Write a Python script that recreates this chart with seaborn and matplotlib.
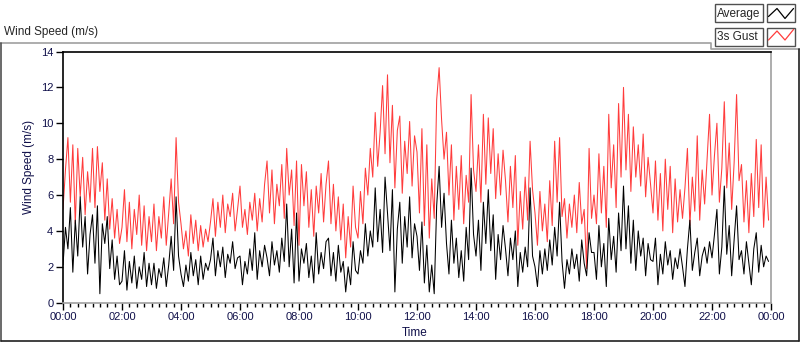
import numpy as np
import pandas as pd
import seaborn as sns
import matplotlib.pyplot as plt
from matplotlib.lines import Line2D
from matplotlib.patches import Rectangle
from matplotlib.ticker import MultipleLocator

# -------------------------------
# Data: 5-minute samples over one day (one row = one hour)
# -------------------------------
sample_min = 5

avg_ms = [
    2.1, 4.2, 3.0, 5.3, 1.7, 4.6, 2.6, 5.9, 3.1, 4.8, 1.6, 3.8,
    4.9, 2.2, 5.4, 0.5, 4.4, 3.3, 4.8, 1.9, 3.5, 1.3, 2.6, 1.0,
    1.2, 2.9, 0.7, 2.3, 1.1, 2.6, 0.8, 2.0, 1.3, 2.8, 0.9, 2.2,
    1.0, 2.2, 0.8, 1.9, 1.4, 2.5, 0.9, 2.1, 3.7, 1.8, 5.9, 2.6,
    1.6, 0.9, 2.1, 1.2, 2.8, 1.5, 2.4, 1.0, 2.6, 1.3, 2.2, 1.8,
    2.4, 3.6, 1.5, 2.9, 2.0, 3.1, 1.4, 2.7, 2.2, 3.4, 1.9, 2.5,
    2.6, 1.0, 2.3, 1.6, 3.0, 1.8, 3.9, 1.3, 2.9, 2.0, 3.2, 2.5,
    1.5, 3.4, 2.1, 2.9, 1.7, 3.6, 2.3, 5.5, 2.0, 4.1, 1.1, 5.0,
    1.2, 3.0, 2.2, 3.3, 1.4, 2.6, 1.1, 3.9, 1.6, 2.8, 1.9, 3.4,
    3.6, 1.5, 2.8, 1.2, 3.2, 1.7, 2.3, 0.6, 2.0, 1.0, 3.4, 1.8,
    1.6, 2.9, 2.2, 4.4, 2.6, 4.0, 3.1, 6.4, 3.4, 5.2, 2.8, 7.0,
    5.0, 2.9, 6.3, 0.6, 4.1, 5.6, 2.2, 4.8, 3.1, 5.9, 2.5, 4.4,
    3.7, 1.8, 4.5, 1.1, 3.2, 0.6, 2.1, 0.5, 5.4, 7.6, 4.2, 6.1,
    3.3, 1.6, 4.6, 2.2, 3.6, 1.4, 2.9, 1.2, 4.2, 2.4, 7.5, 3.8,
    2.6, 4.6, 1.8, 5.6, 3.3, 6.3, 2.9, 4.9, 1.3, 3.8, 2.4, 4.3,
    3.0, 1.5, 3.6, 2.4, 4.0, 0.9, 2.8, 1.7, 3.1, 2.0, 6.4, 2.6,
    2.0, 0.9, 2.9, 1.6, 3.0, 1.8, 3.5, 2.1, 4.2, 2.6, 5.6, 2.3,
    0.8, 2.4, 1.6, 3.0, 1.9, 2.7, 1.2, 3.5, 2.2, 1.5, 3.9, 2.8,
    2.8, 1.3, 4.3, 2.0, 3.3, 0.9, 4.7, 2.4, 3.7, 1.7, 5.0, 2.9,
    6.5, 3.0, 5.4, 2.2, 4.6, 1.8, 4.0, 2.6, 3.6, 1.5, 3.3, 2.4,
    2.3, 3.6, 1.0, 2.7, 1.6, 3.4, 2.1, 2.9, 1.3, 2.5, 1.9, 3.0,
    2.0, 0.9, 3.0, 4.6, 1.8, 2.8, 3.6, 1.5, 2.6, 3.1, 2.2, 3.4,
    2.5, 3.8, 5.2, 1.6, 3.1, 6.5, 2.7, 4.3, 1.5, 3.5, 5.4, 2.4,
    2.9, 1.6, 3.4, 2.2, 1.0, 3.0, 3.9, 1.7, 3.2, 2.0, 2.6, 2.3,
]

gust_ms = [
    5.2, 7.4, 9.2, 5.6, 8.8, 4.4, 8.6, 5.9, 8.1, 4.9, 7.3, 5.6,
    8.6, 5.3, 8.7, 6.2, 7.8, 4.6, 6.9, 4.1, 5.8, 3.6, 5.2, 3.3,
    4.2, 6.3, 3.4, 5.6, 3.0, 5.2, 3.8, 6.0, 3.2, 5.4, 2.9, 4.8,
    3.4, 5.5, 2.9, 4.8, 3.6, 5.9, 3.2, 5.0, 6.9, 4.4, 9.2, 5.6,
    4.4, 3.0, 4.0, 2.6, 4.9, 3.3, 4.6, 2.9, 4.3, 3.1, 4.1, 3.4,
    4.5, 5.8, 3.7, 5.6, 4.2, 6.0, 3.9, 5.5, 4.8, 6.1, 4.0, 5.2,
    6.5, 4.2, 5.2, 3.8, 5.6, 4.6, 6.1, 4.0, 5.8, 4.5, 6.6, 7.9,
    5.0, 7.4, 4.4, 6.6, 5.4, 7.7, 4.7, 8.6, 6.0, 7.4, 4.3, 7.9,
    3.2, 7.7, 5.4, 7.3, 4.2, 6.3, 3.7, 6.5, 5.0, 7.2, 4.5, 6.6,
    7.9, 4.4, 6.6, 4.0, 5.9, 3.5, 5.5, 2.5, 4.8, 3.1, 6.5, 4.2,
    3.6, 6.2, 4.4, 7.5, 6.0, 8.6, 7.0, 10.6, 7.6, 9.5, 12.1, 8.3,
    12.7, 7.8, 11.0, 6.4, 9.6, 10.4, 6.1, 9.0, 7.2, 10.1, 6.5, 9.3,
    8.4, 5.0, 9.7, 4.3, 8.8, 3.6, 6.9, 4.7, 11.3, 13.1, 10.2, 8.0,
    9.5, 6.0, 8.8, 4.6, 7.6, 5.2, 8.2, 4.4, 7.1, 5.6, 11.6, 7.4,
    6.2, 8.8, 5.6, 10.5, 6.6, 10.3, 7.2, 9.7, 5.8, 8.3, 6.0, 8.5,
    6.8, 4.5, 7.6, 5.3, 8.2, 3.2, 6.2, 4.1, 7.0, 4.6, 9.0, 6.3,
    5.0, 3.2, 6.2, 4.0, 5.5, 3.4, 6.8, 4.3, 9.0, 5.6, 9.2, 4.8,
    5.8, 3.6, 5.5, 4.2, 6.0, 3.9, 6.7, 4.4, 5.2, 1.9, 8.6, 4.7,
    6.0, 4.4, 8.3, 5.0, 7.6, 4.2, 10.5, 6.4, 8.8, 5.3, 11.1, 7.0,
    12.0, 7.4, 10.5, 6.2, 9.8, 7.0, 8.8, 6.5, 9.4, 5.9, 8.1, 6.6,
    5.0, 7.9, 4.6, 7.2, 4.0, 8.0, 5.2, 7.6, 3.9, 6.9, 4.5, 6.3,
    4.7, 6.4, 8.6, 4.3, 7.0, 5.1, 9.3, 4.6, 7.4, 5.5, 8.0, 10.5,
    6.0, 8.2, 10.0, 5.6, 7.5, 11.2, 6.4, 8.9, 5.2, 7.8, 11.6, 6.8,
    7.7, 4.5, 6.8, 3.9, 7.2, 4.8, 9.1, 5.3, 8.8, 4.2, 7.0, 4.6,
]

tick_hours = [0, 2, 4, 6, 8, 10, 12, 14, 16, 18, 20, 22, 24]
tick_labels = ["00:00", "02:00", "04:00", "06:00", "08:00", "10:00", "12:00",
               "14:00", "16:00", "18:00", "20:00", "22:00", "00:00"]
y_ticks = [0, 2, 4, 6, 8, 10, 12, 14]

df = pd.DataFrame({
    "hour": np.arange(len(avg_ms)) * sample_min / 60,
    "Average": avg_ms,
    "3s Gust": gust_ms,
})

# -------------------------------
# Figure
# -------------------------------
sns.set_style("white")
plt.rcParams["font.family"] = ["Liberation Sans", "DejaVu Sans"]

W, H = 800, 342
fig = plt.figure(figsize=(8, 3.42), dpi=100)
fig.patch.set_facecolor("white")


def fx(x):
    return x / W


def fy(y):
    return 1 - y / H


ax = fig.add_axes([fx(63), fy(302.7), 708 / W, 251.2 / H])
sns.lineplot(data=df, x="hour", y="3s Gust", color="#ff3c3c", lw=0.75, ax=ax)
sns.lineplot(data=df, x="hour", y="Average", color="black", lw=0.75, ax=ax)

ax.set_xlim(0, 24)
ax.set_ylim(0, 14)
ax.set_xticks(tick_hours, tick_labels)
ax.xaxis.set_minor_locator(MultipleLocator(0.25))
ax.set_yticks(y_ticks)
ax.tick_params(which="major", bottom=True, left=True, direction="out",
               length=5, width=1, color="black", labelsize=8, pad=2,
               labelcolor="#10104a")
ax.tick_params(which="minor", bottom=True, direction="out", length=3,
               width=1, color="black")

for side in ["top", "left"]:
    ax.spines[side].set_color("black")
    ax.spines[side].set_linewidth(1.2)
for side in ["bottom", "right"]:
    ax.spines[side].set_color("#a0a0a0")
    ax.spines[side].set_linewidth(1.2)

ax.set_xlabel("Time", fontsize=8.5, color="#10104a")
ax.xaxis.set_label_coords(0.497, -0.095)
ax.set_ylabel("Wind Speed (m/s)", fontsize=8.5, color="#10104a")
ax.yaxis.set_label_coords(-0.04, 0.54)

# Chart title above the frame
fig.text(fx(4), fy(35), "Wind Speed (m/s)", fontsize=8.5, va="baseline")

# Outer frame
fig.add_artist(Line2D([fx(0), fx(711), fx(711), fx(800)],
                      [fy(42.5), fy(42.5), fy(49), fy(49)],
                      color="#a0a0a0", lw=1.2, transform=fig.transFigure))
fig.add_artist(Line2D([fx(0.8), fx(0.8)], [fy(42.5), fy(340.5)],
                      color="#505050", lw=1.2, transform=fig.transFigure))
fig.add_artist(Line2D([fx(0.8), fx(799)], [fy(340.5), fy(340.5)],
                      color="#202020", lw=1.2, transform=fig.transFigure))
fig.add_artist(Line2D([fx(799), fx(799)], [fy(49), fy(340.5)],
                      color="#202020", lw=1.2, transform=fig.transFigure))

# Legend boxes (name box + line icon box)
legend_rows = [("Average", "black", 4.5, [16.5, 8.5, 18.5, 8.5]),
               ("3s Gust", "#ff3c3c", 28, [40, 31, 40, 29.5])]
for name, col, top, icon_y in legend_rows:
    fig.add_artist(Rectangle((fx(715), fy(top + 17.5)), 48 / W, 17.5 / H,
                             transform=fig.transFigure, facecolor="white",
                             edgecolor="#505050", lw=1))
    fig.add_artist(Rectangle((fx(767), fy(top + 17.5)), 28 / W, 17.5 / H,
                             transform=fig.transFigure, facecolor="white",
                             edgecolor="#505050", lw=1))
    fig.text(fx(717), fy(top + 9), name, fontsize=8.5, va="center")
    fig.add_artist(Line2D([fx(768.5), fx(777), fx(785), fx(793.5)],
                          [fy(v) for v in icon_y], color=col, lw=0.9,
                          transform=fig.transFigure))

fig.savefig("out.png", dpi=100)
